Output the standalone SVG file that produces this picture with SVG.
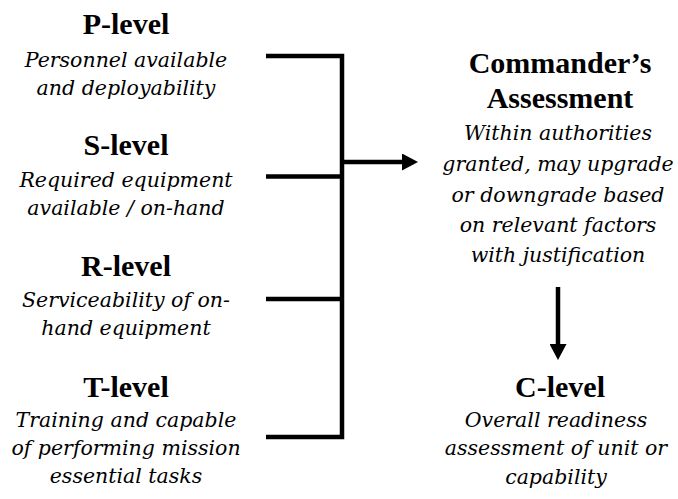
<svg xmlns="http://www.w3.org/2000/svg" width="678" height="499" viewBox="0 0 678 499">
<style>
text{font-family:"Liberation Serif","Times New Roman",serif;fill:#000;text-anchor:middle}
.t{font-weight:bold;font-size:30px}
.d{font-family:"DejaVu Serif",serif;font-style:italic;font-size:20.5px}
.ln{stroke:#000;stroke-width:4.5;fill:none}
</style>
<defs>
<marker id="arr" viewBox="0 0 16 17" refX="0" refY="8.5" markerWidth="16" markerHeight="17" orient="auto" markerUnits="userSpaceOnUse">
<path d="M0,0 L16,8.5 L0,17 Z" fill="#000"/>
</marker>
</defs>
<rect width="678" height="499" fill="#fff"/>
<g id="p-level">
<text class="t" x="126" y="34">P-level</text>
<text class="d" x="126" y="66.5">Personnel available</text>
<text class="d" x="126" y="94.5">and deployability</text>
</g>
<g id="s-level">
<text class="t" x="126" y="154.5">S-level</text>
<text class="d" x="126" y="186.5">Required equipment</text>
<text class="d" x="126" y="215">available / on-hand</text>
</g>
<g id="r-level">
<text class="t" x="126" y="276">R-level</text>
<text class="d" x="126" y="306.5">Serviceability of on-</text>
<text class="d" x="126" y="335">hand equipment</text>
</g>
<g id="t-level">
<text class="t" x="126" y="396.5">T-level</text>
<text class="d" x="126" y="426.5">Training and capable</text>
<text class="d" x="126" y="455">of performing mission</text>
<text class="d" x="126" y="483">essential tasks</text>
</g>
<g id="commanders-assessment">
<text class="t" x="560" y="73">Commander’s</text>
<text class="t" x="560" y="107.5">Assessment</text>
<text class="d" x="558" y="140">Within authorities</text>
<text class="d" x="558" y="171">granted, may upgrade</text>
<text class="d" x="558" y="202">or downgrade based</text>
<text class="d" x="558" y="232">on relevant factors</text>
<text class="d" x="558" y="262">with justification</text>
</g>
<g id="c-level">
<text class="t" x="560" y="396.5">C-level</text>
<text class="d" x="556" y="426.5">Overall readiness</text>
<text class="d" x="556" y="455">assessment of unit or</text>
<text class="d" x="556" y="483.5">capability</text>
</g>
<g id="connectors">
<path class="ln" d="M266,56 H342 V437 H266"/>
<path class="ln" d="M266,176.5 H342"/>
<path class="ln" d="M266,299 H342"/>
<path class="ln" d="M342,162 H402" marker-end="url(#arr)"/>
<path class="ln" d="M558,287 V344" marker-end="url(#arr)"/>
</g>
</svg>
